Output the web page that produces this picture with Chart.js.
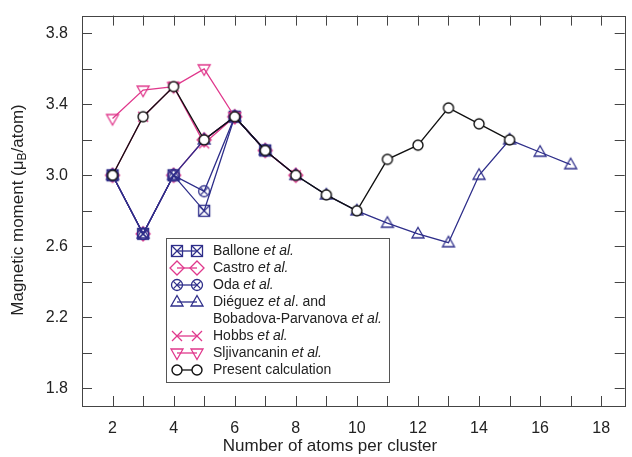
<!DOCTYPE html>
<html>
<head>
<meta charset="utf-8">
<script src="https://cdn.jsdelivr.net/npm/chart.js@4.4.1/dist/chart.umd.min.js"></script>
<style>
html, body { margin: 0; padding: 0; background: #fff; }
#wrap { width: 632px; height: 457px; }
</style>
</head>
<body>
<div id="wrap"><canvas id="chart" width="632" height="457"></canvas></div>
<script>
// magnetic moment (mu_B/atom) vs cluster size
const balloneN = [2, 3, 4, 5, 6, 7];
const balloneM = [3.00, 2.67, 3.00, 2.80, 3.33, 3.14];

const castroN = [2, 3, 4, 5, 6, 7, 8];
const castroM = [3.00, 2.67, 3.00, 3.20, 3.33, 3.14, 3.00];

const odaN = [2, 3, 4, 5, 6, 7];
const odaM = [3.00, 2.67, 3.00, 2.91, 3.33, 3.14];

const dieguezN = [2, 3, 4, 5, 6, 7, 8, 9, 10, 11, 12, 13, 14, 15, 16, 17];
const dieguezM = [3.00, 2.67, 3.00, 3.20, 3.33, 3.14, 3.00, 2.89, 2.80, 2.73, 2.67, 2.62, 3.00, 3.20, 3.13, 3.06];

const hobbsN = [2, 3, 4, 5, 6, 7, 8];
const hobbsM = [3.00, 3.33, 3.50, 3.18, 3.33, 3.14, 3.00];

const sljivN = [2, 3, 4, 5, 6];
const sljivM = [3.32, 3.48, 3.50, 3.60, 3.33];

const presentN = [2, 3, 4, 5, 6, 7, 8, 9, 10, 11, 12, 13, 14, 15];
const presentM = [3.00, 3.33, 3.50, 3.20, 3.33, 3.14, 3.00, 2.89, 2.80, 3.09, 3.17, 3.38, 3.29, 3.20];

// tick marks (every one drawn) and which of them carry a label
const xTicks = [2, 3, 4, 5, 6, 7, 8, 9, 10, 11, 12, 13, 14, 15, 16, 17, 18];
const xTickLabels = ['2', '4', '6', '8', '10', '12', '14', '16', '18'];
const yTicks = [1.8, 2.0, 2.2, 2.4, 2.6, 2.8, 3.0, 3.2, 3.4, 3.6, 3.8];
const yTickLabels = ['1.8', '2.2', '2.6', '3.0', '3.4', '3.8'];

const BLUE = '#2e2e8a';
const PINK = '#e0388c';
const FONT = '"Liberation Sans", Arial, Helvetica, sans-serif';

// marker glyphs, drawn once into small canvases and used as pointStyle
function makeMarker(draw) {
  const c = document.createElement('canvas');
  c.width = 18; c.height = 18;
  const g = c.getContext('2d');
  g.lineWidth = 1.3;
  draw(g, 9, 9);
  return c;
}
function line(g, x1, y1, x2, y2) { g.beginPath(); g.moveTo(x1, y1); g.lineTo(x2, y2); g.stroke(); }

const mkBallone = makeMarker((g, x, y) => {
  g.strokeStyle = BLUE;
  g.strokeRect(x - 5.5, y - 5.5, 11, 11);
  line(g, x - 5.5, y - 5.5, x + 5.5, y + 5.5);
  line(g, x + 5.5, y - 5.5, x - 5.5, y + 5.5);
});
const mkCastro = makeMarker((g, x, y) => {
  g.strokeStyle = PINK;
  g.beginPath();
  g.moveTo(x, y - 7); g.lineTo(x + 7, y); g.lineTo(x, y + 7); g.lineTo(x - 7, y);
  g.closePath(); g.stroke();
});
const mkOda = makeMarker((g, x, y) => {
  g.strokeStyle = BLUE;
  g.beginPath(); g.arc(x, y, 5.5, 0, Math.PI * 2); g.stroke();
  line(g, x - 3.6, y - 3.6, x + 3.6, y + 3.6);
  line(g, x + 3.6, y - 3.6, x - 3.6, y + 3.6);
});
const mkDieguez = makeMarker((g, x, y) => {
  g.strokeStyle = BLUE;
  g.beginPath();
  g.moveTo(x, y - 6.5); g.lineTo(x + 6, y + 4); g.lineTo(x - 6, y + 4);
  g.closePath(); g.stroke();
});
const mkHobbs = makeMarker((g, x, y) => {
  g.strokeStyle = PINK;
  line(g, x - 5, y - 5, x + 5, y + 5);
  line(g, x + 5, y - 5, x - 5, y + 5);
});
const mkSljiv = makeMarker((g, x, y) => {
  g.strokeStyle = PINK;
  g.beginPath();
  g.moveTo(x, y + 6.5); g.lineTo(x + 6, y - 4); g.lineTo(x - 6, y - 4);
  g.closePath(); g.stroke();
});
const mkPresent = makeMarker((g, x, y) => {
  g.fillStyle = '#fff';
  g.strokeStyle = '#111';
  g.lineWidth = 1.4;
  g.beginPath(); g.arc(x, y, 5, 0, Math.PI * 2); g.fill(); g.stroke();
});

function series(n, m, color, marker) {
  return {
    data: n.map((x, i) => ({ x: x, y: m[i] })),
    borderColor: color,
    borderWidth: 1.3,
    pointStyle: marker,
    pointRadius: 6,
    tension: 0,
    fill: false
  };
}

// legend rows: marker, color, text pieces [text, italic]
const legendRows = [
  { marker: mkBallone, color: BLUE, parts: [['Ballone ', false], ['et al.', true]] },
  { marker: mkCastro, color: PINK, parts: [['Castro ', false], ['et al.', true]] },
  { marker: mkOda, color: BLUE, parts: [['Oda ', false], ['et al.', true]] },
  { marker: mkDieguez, color: BLUE, parts: [['Diéguez ', false], ['et al', true], ['. and', false]] },
  { marker: null, color: null, parts: [['Bobadova-Parvanova ', false], ['et al.', true]] },
  { marker: mkHobbs, color: PINK, parts: [['Hobbs ', false], ['et al.', true]] },
  { marker: mkSljiv, color: PINK, parts: [['Sljivancanin ', false], ['et al.', true]] },
  { marker: mkPresent, color: '#111', parts: [['Present calculation', false]] }
];

const framePlugin = {
  id: 'frame',
  beforeDatasetsDraw(chart) {
    const ctx = chart.ctx;
    const a = chart.chartArea;
    const xs = chart.scales.x, ys = chart.scales.y;
    ctx.save();
    ctx.strokeStyle = '#444';
    ctx.lineWidth = 1;
    ctx.strokeRect(Math.round(a.left) + 0.5, Math.round(a.top) + 0.5,
      Math.round(a.right - a.left), Math.round(a.bottom - a.top));
    ctx.beginPath();
    xs.ticks.forEach(t => {
      const px = Math.round(xs.getPixelForValue(t.value)) + 0.5;
      ctx.moveTo(px, a.bottom); ctx.lineTo(px, a.bottom - 10);
      ctx.moveTo(px, a.top); ctx.lineTo(px, a.top + 10);
    });
    ys.ticks.forEach(t => {
      const py = Math.round(ys.getPixelForValue(t.value)) + 0.5;
      ctx.moveTo(a.left, py); ctx.lineTo(a.left + 10, py);
      ctx.moveTo(a.right, py); ctx.lineTo(a.right - 10, py);
    });
    ctx.stroke();
    ctx.restore();
  },
  afterDraw(chart) {
    const ctx = chart.ctx;
    ctx.save();
    ctx.fillStyle = '#222';
    ctx.textBaseline = 'middle';

    // x title
    ctx.font = '17px ' + FONT;
    ctx.textAlign = 'center';
    ctx.fillText('Number of atoms per cluster', 330, 446);

    // y title with subscript B
    ctx.translate(18, 210);
    ctx.rotate(-Math.PI / 2);
    const p1 = 'Magnetic moment (\u03bc', p2 = 'B', p3 = '/atom)';
    ctx.font = '17px ' + FONT;
    const w1 = ctx.measureText(p1).width, w3 = ctx.measureText(p3).width;
    ctx.font = '12px ' + FONT;
    const w2 = ctx.measureText(p2).width;
    let x = -(w1 + w2 + w3) / 2;
    ctx.textAlign = 'left';
    ctx.font = '17px ' + FONT;
    ctx.fillText(p1, x, 0); x += w1;
    ctx.font = '12px ' + FONT;
    ctx.fillText(p2, x, 5); x += w2;
    ctx.font = '17px ' + FONT;
    ctx.fillText(p3, x, 0);
    ctx.setTransform(1, 0, 0, 1, 0, 0);

    // legend box
    ctx.fillStyle = '#fff';
    ctx.fillRect(166, 238, 223, 144);
    ctx.strokeStyle = '#555';
    ctx.lineWidth = 1;
    ctx.strokeRect(166.5, 238.5, 223, 144);
    legendRows.forEach((r, i) => {
      const y = 251 + i * 17;
      if (r.marker) {
        ctx.strokeStyle = r.color;
        ctx.lineWidth = 1.3;
        ctx.beginPath(); ctx.moveTo(177, y); ctx.lineTo(197, y); ctx.stroke();
        ctx.drawImage(r.marker, 177 - 9, y - 9);
        ctx.drawImage(r.marker, 197 - 9, y - 9);
      }
      let tx = 213;
      ctx.fillStyle = '#222';
      ctx.textAlign = 'left';
      r.parts.forEach(([txt, it]) => {
        ctx.font = (it ? 'italic ' : '') + '14px ' + FONT;
        ctx.fillText(txt, tx, y + 0.5);
        tx += ctx.measureText(txt).width;
      });
    });
    ctx.restore();
  }
};

// first dataset is painted last (on top)
new Chart(document.getElementById('chart').getContext('2d'), {
  type: 'line',
  data: {
    datasets: [
      series(presentN, presentM, '#111', mkPresent),
      series(sljivN, sljivM, PINK, mkSljiv),
      series(dieguezN, dieguezM, BLUE, mkDieguez),
      series(odaN, odaM, BLUE, mkOda),
      series(balloneN, balloneM, BLUE, mkBallone),
      series(hobbsN, hobbsM, PINK, mkHobbs),
      series(castroN, castroM, PINK, mkCastro)
    ]
  },
  options: {
    responsive: false,
    animation: false,
    devicePixelRatio: 1,
    layout: { padding: { top: 15, right: 2, left: 0, bottom: 0 } },
    plugins: { legend: { display: false }, tooltip: { enabled: false } },
    scales: {
      x: {
        type: 'linear',
        min: 1,
        max: 18.77,
        grid: { display: false },
        border: { display: false },
        afterBuildTicks: s => { s.ticks = xTicks.map(v => ({ value: v })); },
        ticks: {
          autoSkip: false,
          maxRotation: 0,
          padding: 5,
          color: '#222',
          font: { family: FONT, size: 16 },
          callback: v => xTickLabels.includes(String(v)) ? String(v) : ''
        },
        afterFit: s => { s.height = 51; }
      },
      y: {
        type: 'linear',
        min: 1.7,
        max: 3.9,
        grid: { display: false },
        border: { display: false },
        afterBuildTicks: s => { s.ticks = yTicks.map(v => ({ value: v })); },
        ticks: {
          autoSkip: false,
          padding: 6,
          color: '#222',
          font: { family: FONT, size: 16 },
          callback: v => yTickLabels.includes(v.toFixed(1)) ? v.toFixed(1) : ''
        },
        afterFit: s => { s.width = 82; }
      }
    }
  },
  plugins: [framePlugin]
});
</script>
</body>
</html>
